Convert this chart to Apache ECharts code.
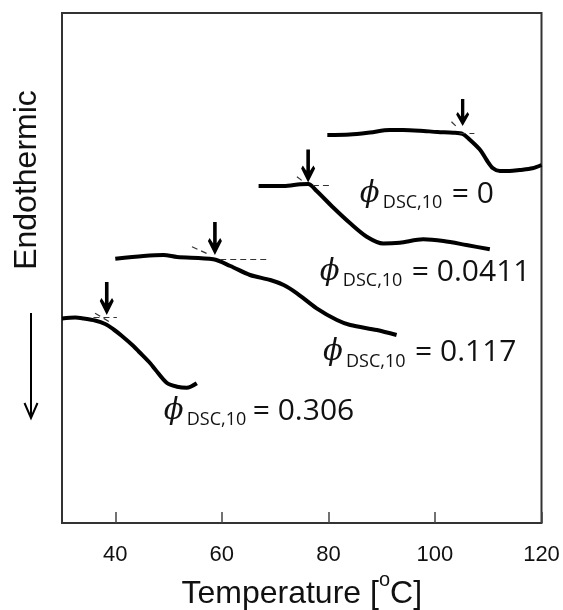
<!DOCTYPE html>
<html>
<head>
<meta charset="utf-8">
<script src="https://cdn.jsdelivr.net/npm/echarts@6/dist/echarts.min.js"></script>
<style>
  html, body { margin: 0; padding: 0; background: #fff; }
  #main { width: 563px; height: 610px; }
</style>
</head>
<body>
<div id="main"></div>
<script>
// DSC traces (heat flow in arbitrary units, shifted)
var temp0 = [79.8, 84, 87.8, 91.5, 94, 97.2, 100.5, 103.4, 105.2, 106.6, 108.5, 109.7, 110.9, 112.2, 114, 115.9, 118.3, 120];
var heat0 = [38.8, 38.85, 39.05, 39.3, 39.3, 39.23, 39.1, 39.03, 38.9, 38.3, 37.3, 36.3, 35.47, 35.2, 35.2, 35.3, 35.47, 35.8];

var temp1 = [66.9, 71.6, 74.7, 76.2, 77.8, 80.9, 84.1, 87.2, 90.3, 93.4, 97.8, 101.6, 105.9, 110.3];
var heat1 = [33.7, 33.7, 33.87, 33.9, 33.2, 31.55, 29.97, 28.63, 27.95, 28.03, 28.37, 28.2, 27.8, 27.37];

var temp2 = [40.0, 45.3, 49.05, 51.6, 58.4, 61.6, 65.3, 69.1, 71.6, 74.1, 77.8, 81.6, 84.1, 89.1, 92.8];
var heat2 = [26.42, 26.7, 26.8, 26.6, 26.37, 25.7, 24.8, 24.3, 23.8, 22.97, 21.47, 20.3, 19.8, 19.3, 18.8];

var temp3 = [30, 32.5, 34.05, 36.2, 38.1, 39.7, 41.25, 43.4, 44.4, 46.6, 47.5, 49.7, 51.6, 53.4, 55.3];
var heat3 = [20.45, 20.55, 20.45, 20.25, 19.9, 19.35, 18.7, 17.7, 17.15, 15.95, 15.35, 14.0, 13.63, 13.52, 13.97];

// glass transition onset (arrow tip) for each trace
var onsetT = [105.2, 76.2, 58.7, 38.4];
var onsetV = [39.7, 34.05, 26.8, 20.8];

// dashed tangent helper lines [x1, y1, x2, y2]
var baseLines = [[104.6, 38.97, 107.4, 38.97], [77.1, 33.73, 80.3, 33.73], [59.7, 26.4, 68.4, 26.4], [35.9, 20.57, 40.3, 20.57]];
var slopeLines = [[103.1, 40.13, 104.1, 39.6], [74.1, 34.63, 75.3, 34.13], [54.4, 27.63, 57.8, 26.8], [36.2, 20.97, 39.4, 19.97]];

// phi labels
var phiText = ['= 0', '= 0.0411', '= 0.117', '= 0.306'];
var phiPosT = [85.9, 78.4, 79.0, 49.1];
var phiPosV = [32.9, 25.1, 17.05, 11.2];

var xTicks = [40, 60, 80, 100, 120];

var arrowPath = 'path://M5.2,0L8.8,0L8.8,22L12.3,16.5L14,19.5L7,34L0,19.5L1.7,16.5L5.2,22Z';

var temps = [temp0, temp1, temp2, temp3];
var heats = [heat0, heat1, heat2, heat3];

var series = [];
for (var i = 0; i < 4; i++) {
  var pts = [];
  for (var j = 0; j < temps[i].length; j++) {
    pts.push([temps[i][j], heats[i][j]]);
  }
  var b = baseLines[i], s = slopeLines[i];
  series.push({
    type: 'line',
    data: pts,
    symbol: 'none',
    smooth: 0.3,
    lineStyle: { color: '#000', width: 4 },
    markPoint: {
      silent: true,
      symbol: arrowPath,
      symbolSize: i == 0 ? [13, 27] : [14, 33],
      symbolOffset: [0, '-50%'],
      itemStyle: { color: '#000' },
      label: { show: false },
      data: [{ coord: [onsetT[i], onsetV[i]] }]
    },
    markLine: {
      silent: true,
      symbol: 'none',
      label: { show: false },
      lineStyle: { color: '#333', width: 1.2, type: [6, 4] },
      data: [
        [{ coord: [b[0], b[1]] }, { coord: [b[2], b[3]] }],
        [{ coord: [s[0], s[1]] }, { coord: [s[2], s[3]] }]
      ]
    }
  });
}

var option = {
  animation: false,
  grid: {
    left: 62, right: 21.5, top: 13, bottom: 87,
    outerBoundsMode: 'none',
    show: true, borderColor: '#333', borderWidth: 2
  },
  xAxis: {
    type: 'value',
    min: 30,
    max: 120,
    axisLine: { show: false },
    axisTick: {
      inside: true, length: 11, customValues: xTicks,
      lineStyle: { color: '#444', width: 1.5 }
    },
    axisLabel: {
      customValues: xTicks, margin: 21,
      fontSize: 22, fontFamily: 'Liberation Sans', color: '#111'
    },
    splitLine: { show: false },
    name: 'Temperature [{sup|o}C]',
    nameLocation: 'middle',
    nameGap: 46,
    nameMoveOverlap: false,
    nameTextStyle: {
      fontSize: 32, fontFamily: 'Liberation Sans', color: '#111', lineHeight: 50,
      rich: {
        sup: { fontSize: 20, lineHeight: 20, padding: [0, 0, 28, 0], fontFamily: 'Liberation Sans', color: '#111' }
      }
    }
  },
  yAxis: {
    type: 'value',
    min: 0,
    max: 51,
    axisLine: { show: false },
    axisTick: { show: false },
    axisLabel: { show: false },
    splitLine: { show: false }
  },
  series: series
};

var chart = echarts.init(document.getElementById('main'));
chart.setOption(option);

var graphics = [
  {
    type: 'text', x: 27, y: 180, rotation: Math.PI / 2,
    style: { text: 'Endothermic', font: '32px "Liberation Sans"', fill: '#111', align: 'center', verticalAlign: 'middle' }
  },
  { type: 'line', shape: { x1: 31, y1: 313, x2: 31, y2: 417 }, style: { stroke: '#000', lineWidth: 2 } },
  { type: 'polyline', shape: { points: [[24.5, 403], [31, 418], [37.5, 403]] }, style: { stroke: '#000', lineWidth: 2, fill: null } }
];

for (var k = 0; k < 4; k++) {
  var p = chart.convertToPixel({ gridIndex: 0 }, [phiPosT[k], phiPosV[k]]);
  graphics.push({
    type: 'text', x: p[0], y: p[1],
    style: {
      text: '{phi|\u03d5}{' + (k == 3 ? 'sub2' : 'sub') + '|DSC,10}{big|' + phiText[k] + '}',
      align: 'left', verticalAlign: 'middle',
      rich: {
        phi: { fontSize: 29, fontFamily: 'DejaVu Serif', fontStyle: 'italic', width: 23, lineHeight: 36, fill: '#111' },
        sub: { fontSize: 18, fontFamily: 'Open Sans', width: 69, lineHeight: 18, padding: [18, 0, 0, 0], fill: '#111' },
        sub2: { fontSize: 18, fontFamily: 'Open Sans', width: 66, lineHeight: 18, padding: [18, 0, 0, 0], fill: '#111' },
        big: { fontSize: 30, fontFamily: 'Open Sans', lineHeight: 36, fill: '#111' }
      }
    }
  });
}
chart.setOption({ graphic: graphics });
</script>
</body>
</html>
